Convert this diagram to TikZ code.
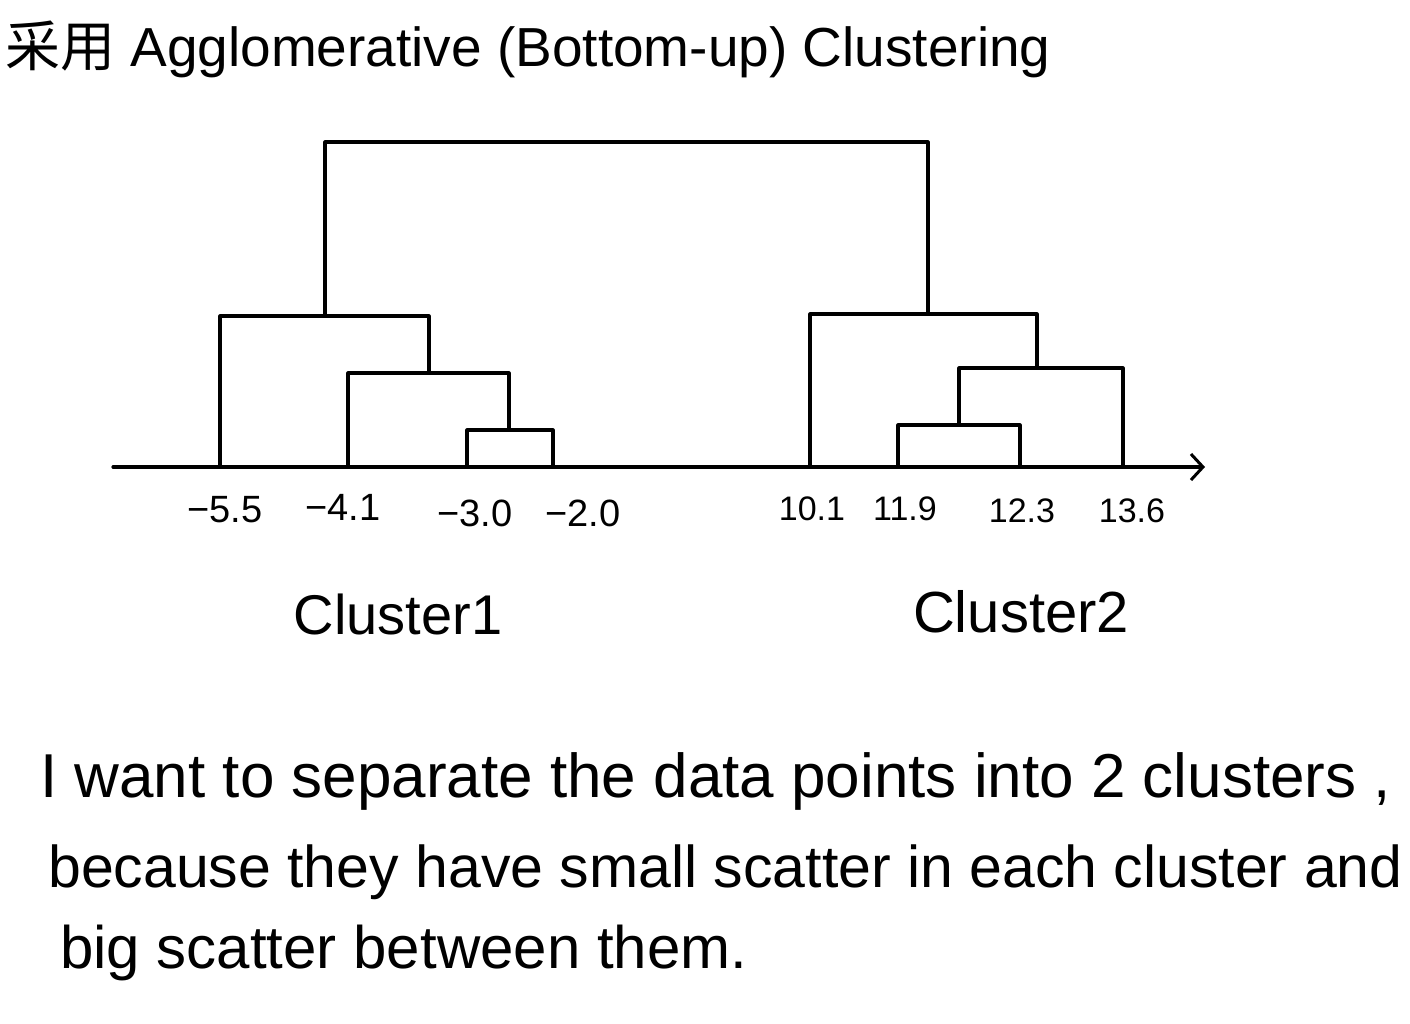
\documentclass[tikz,border=0pt]{standalone}
\usepackage{fontspec}
\setmainfont{Liberation Sans}
\newfontfamily\cjk{Noto Sans CJK SC}
\usetikzlibrary{arrows.meta}
\begin{document}
\begin{tikzpicture}[x=1pt,y=-1pt,
  dline/.style={line width=3.2pt, line cap=round, line join=round},
  tick/.style={font=\fontsize{34}{36}\selectfont, anchor=base},
  lefttick/.style={tick, font=\fontsize{38}{40}\selectfont},
  big/.style={font=\fontsize{60}{64}\selectfont, anchor=base west, inner sep=0pt},
]
\useasboundingbox[fill=white] (0,0) rectangle (1410,1023);
% title
\node[big, font=\fontsize{55}{58}\selectfont] (title) at (5,66) {{\cjk 采用}\ Agglomerative (Bottom-up) Clustering};
% axis
\coordinate (a0) at (113,467);
\coordinate (a1) at (1205,467);
\draw[dline, -{Straight Barb[length=12pt,width=26pt,line width=3pt]}] (a0) -- (a1);
% leaves
\coordinate (l1) at (220,467);
\coordinate (l2) at (348,467);
\coordinate (l3) at (467,467);
\coordinate (l4) at (553,467);
\coordinate (r1) at (810,467);
\coordinate (r2) at (898,467);
\coordinate (r3) at (1020,467);
\coordinate (r4) at (1123,467);
% left cluster
\draw[dline] (l3) -- (467,430) -- (553,430) -- (l4);
\draw[dline] (l2) -- (348,373) -- (509,373) -- (509,430);
\draw[dline] (l1) -- (220,316) -- (429,316) -- (429,373);
% right cluster
\draw[dline] (r2) -- (898,425) -- (1020,425) -- (r3);
\draw[dline] (959,425) -- (959,368) -- (1123,368) -- (r4);
\draw[dline] (r1) -- (810,314) -- (1037,314) -- (1037,368);
% top
\draw[dline] (325,316) -- (325,142) -- (928,142) -- (928,314);
% tick labels
\node[lefttick] (t1) at (225,522) {−5.5};
\node[lefttick] (t2) at (343,520) {−4.1};
\node[lefttick] (t3) at (475,526) {−3.0};
\node[lefttick] (t4) at (583,526) {−2.0};
\node[tick] (t5) at (812,520) {10.1};
\node[tick] (t6) at (905,520) {11.9};
\node[tick] (t7) at (1022,522) {12.3};
\node[tick] (t8) at (1132,522) {13.6};
% cluster labels
\node[big, font=\fontsize{56}{60}\selectfont, anchor=base] (c1) at (398,634) {Cluster1};
\node[big, font=\fontsize{58}{60}\selectfont, anchor=base] (c2) at (1021,632) {Cluster2};
% paragraph
\node[big, font=\fontsize{62}{66}\selectfont] (p1) at (40,797) {I want to separate the data points into 2 clusters ,};
\node[big, font=\fontsize{59}{62}\selectfont] (p2) at (48,887) {because they have small scatter in each cluster and};
\node[big] (p3) at (60,968) {big scatter between them.};
\end{tikzpicture}
\end{document}
